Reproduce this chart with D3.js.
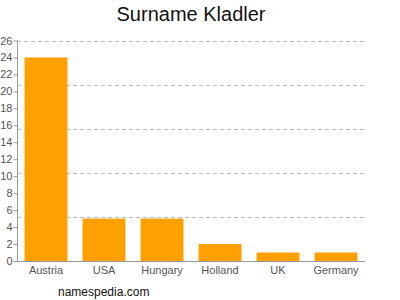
<!DOCTYPE html>
<html><head><meta charset="utf-8">
<script src="https://cdn.jsdelivr.net/npm/d3@7"></script>
<style>body{margin:0;background:#fff}</style>
</head><body>
<svg id="c" width="400" height="300"></svg>
<script>
const categories = ["Austria","USA","Hungary","Holland","UK","Germany"];
const values = [24,5,5,2,1,1];
const yTicks = [0,2,4,6,8,10,12,14,16,18,20,22,24,26];
const gridValues = [5.2,10.4,15.6,20.8,26];

(function(){
const svg = d3.select("#c");
const mLeft = 17, mRight = 365, mTop = 40.5, mBottom = 261;
const x = d3.scaleBand().domain(categories).range([mLeft,mRight]).paddingInner(0.26).paddingOuter(0.13);
const y = d3.scaleLinear().domain([0,26]).range([mBottom,mTop]);

svg.append("g").selectAll("line").data(gridValues).join("line")
  .attr("x1",mLeft).attr("x2",mRight)
  .attr("y1",d=>Math.round(y(d))+0.5).attr("y2",d=>Math.round(y(d))+0.5)
  .attr("stroke","#bbb").attr("stroke-dasharray","4,3").attr("stroke-width",1);

svg.append("g").selectAll("rect").data(values).join("rect")
  .attr("x",(d,i)=>x(categories[i])).attr("width",x.bandwidth())
  .attr("y",d=>y(d)).attr("height",d=>mBottom-y(d))
  .attr("fill","#FFA000");

const ya = svg.append("g").attr("transform",`translate(${mLeft+0.5},0)`)
  .call(d3.axisLeft(y).tickValues(yTicks).tickSize(4).tickPadding(1));
ya.select(".domain").attr("stroke","#999").attr("d",`M0,${mTop}V${mBottom}`);
ya.selectAll(".tick line").attr("stroke","#999");
ya.selectAll("text").attr("fill","#555").style("font-family","Liberation Sans, Arial, sans-serif").style("font-size","11px");

const xa = svg.append("g").attr("transform",`translate(0,${mBottom+0.5})`)
  .call(d3.axisBottom(x).tickSize(0).tickPadding(5));
xa.select(".domain").attr("stroke","#999").attr("d",`M${mLeft},0H${mRight}`);
xa.selectAll("text").attr("fill","#555").style("font-family","Liberation Sans, Arial, sans-serif").style("font-size","11px");

svg.append("text").attr("x",191).attr("y",21).attr("text-anchor","middle")
  .style("font-family","Liberation Sans, Arial, sans-serif").style("font-size","20px").attr("fill","#111")
  .text("Surname Kladler");
svg.append("text").attr("x",58).attr("y",296)
  .style("font-family","Liberation Sans, Arial, sans-serif").style("font-size","12px").attr("fill","#111")
  .text("namespedia.com");
})();
</script>
</body></html>
